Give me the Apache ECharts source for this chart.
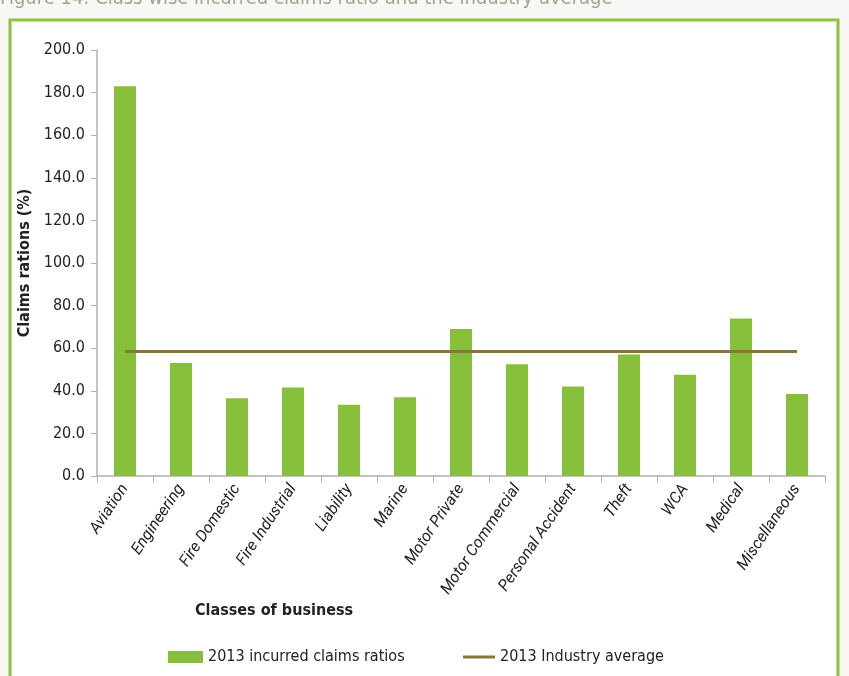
<!DOCTYPE html>
<html>
<head>
<meta charset="utf-8">
<script src="https://cdn.jsdelivr.net/npm/echarts@6/dist/echarts.min.js"></script>
<style>
  html, body { margin: 0; padding: 0; background: #f7f7f5; }
  #chart { width: 849px; height: 676px; }
</style>
</head>
<body>
<div id="chart"></div>
<script>
// categories and values
const classes = ['Aviation', 'Engineering', 'Fire Domestic', 'Fire Industrial', 'Liability', 'Marine',
  'Motor Private', 'Motor Commercial', 'Personal Accident', 'Theft', 'WCA', 'Medical', 'Miscellaneous']
const claimsRatio = [183.0, 53.0, 36.5, 41.5, 33.5, 37.0, 69.0, 52.5, 42.0, 57.0, 47.5, 74.0, 38.5]
const industryAvg = [58.5, 58.5, 58.5, 58.5, 58.5, 58.5, 58.5, 58.5, 58.5, 58.5, 58.5, 58.5, 58.5]
const yTicks = [0, 200, 20] // min, max, step

const FONT = '"DejaVu Sans Condensed", "Liberation Sans Narrow", sans-serif'
const ITALIC_FONT = 'Roboto, "Open Sans", sans-serif' // condensed face has no italic here
const BAR_GREEN = '#86bf3a'
const AVG_BROWN = '#86763c'
const chart = echarts.init(document.getElementById('chart'))

chart.setOption({
  backgroundColor: '#f7f7f5',
  textStyle: { fontFamily: FONT },
  graphic: [
    // green frame of the figure
    { type: 'rect', z: -10, shape: { x: 10, y: 20, width: 828, height: 680 },
      style: { fill: '#ffffff', stroke: '#8cc63f', lineWidth: 3 } },
    // caption, cut at the top edge
    { type: 'text', left: 0, top: -11,
      style: { text: 'Figure 14: Class wise incurred claims ratio and the industry average',
        fill: '#9aaa8a', font: '20px ' + FONT } },
    // x axis name
    { type: 'text', left: 195, top: 603,
      style: { text: 'Classes of business', fill: '#222', font: 'bold 16px ' + FONT } }
  ],
  legend: [
    {
      left: 163, top: 644,
      textStyle: { fontSize: 16, color: '#222', fontFamily: FONT },
      data: [{ name: '2013 incurred claims ratios', icon: 'rect' }],
      itemWidth: 35, itemHeight: 12, itemGap: 4
    },
    {
      left: 458, top: 644,
      textStyle: { fontSize: 16, color: '#222', fontFamily: FONT },
      data: [{ name: '2013 Industry average', icon: 'rect' }],
      itemWidth: 32, itemHeight: 3
    }
  ],
  grid: { left: 97, right: 24, top: 50, bottom: 200 },
  xAxis: {
    type: 'category',
    data: classes,
    axisLine: { lineStyle: { color: '#b0b0b0', width: 1.5 } },
    axisTick: { show: true, length: 6, lineStyle: { color: '#b0b0b0' } },
    axisLabel: {
      rotate: 56, interval: 0, margin: 10,
      fontSize: 16, fontStyle: 'italic', color: '#222', fontFamily: ITALIC_FONT
    }
  },
  yAxis: {
    type: 'value',
    min: yTicks[0], max: yTicks[1], interval: yTicks[2],
    name: 'Claims rations (%)',
    nameLocation: 'middle', nameGap: 62, nameRotate: 90,
    nameTextStyle: { fontSize: 16, fontWeight: 'bold', color: '#222', fontFamily: FONT },
    axisLine: { show: true, lineStyle: { color: '#b0b0b0', width: 1.5 } },
    axisTick: { show: true, length: 6, lineStyle: { color: '#b0b0b0' } },
    splitLine: { show: false },
    axisLabel: {
      fontSize: 16, color: '#222', margin: 12, fontFamily: FONT,
      formatter: v => v.toFixed(1)
    }
  },
  series: [
    {
      name: '2013 incurred claims ratios',
      type: 'bar',
      data: claimsRatio,
      barWidth: 22,
      itemStyle: { color: BAR_GREEN }
    },
    {
      name: '2013 Industry average',
      type: 'line',
      data: industryAvg,
      symbol: 'none',
      lineStyle: { color: AVG_BROWN, width: 3 },
      itemStyle: { color: AVG_BROWN },
      z: 3
    }
  ]
})
</script>
</body>
</html>
